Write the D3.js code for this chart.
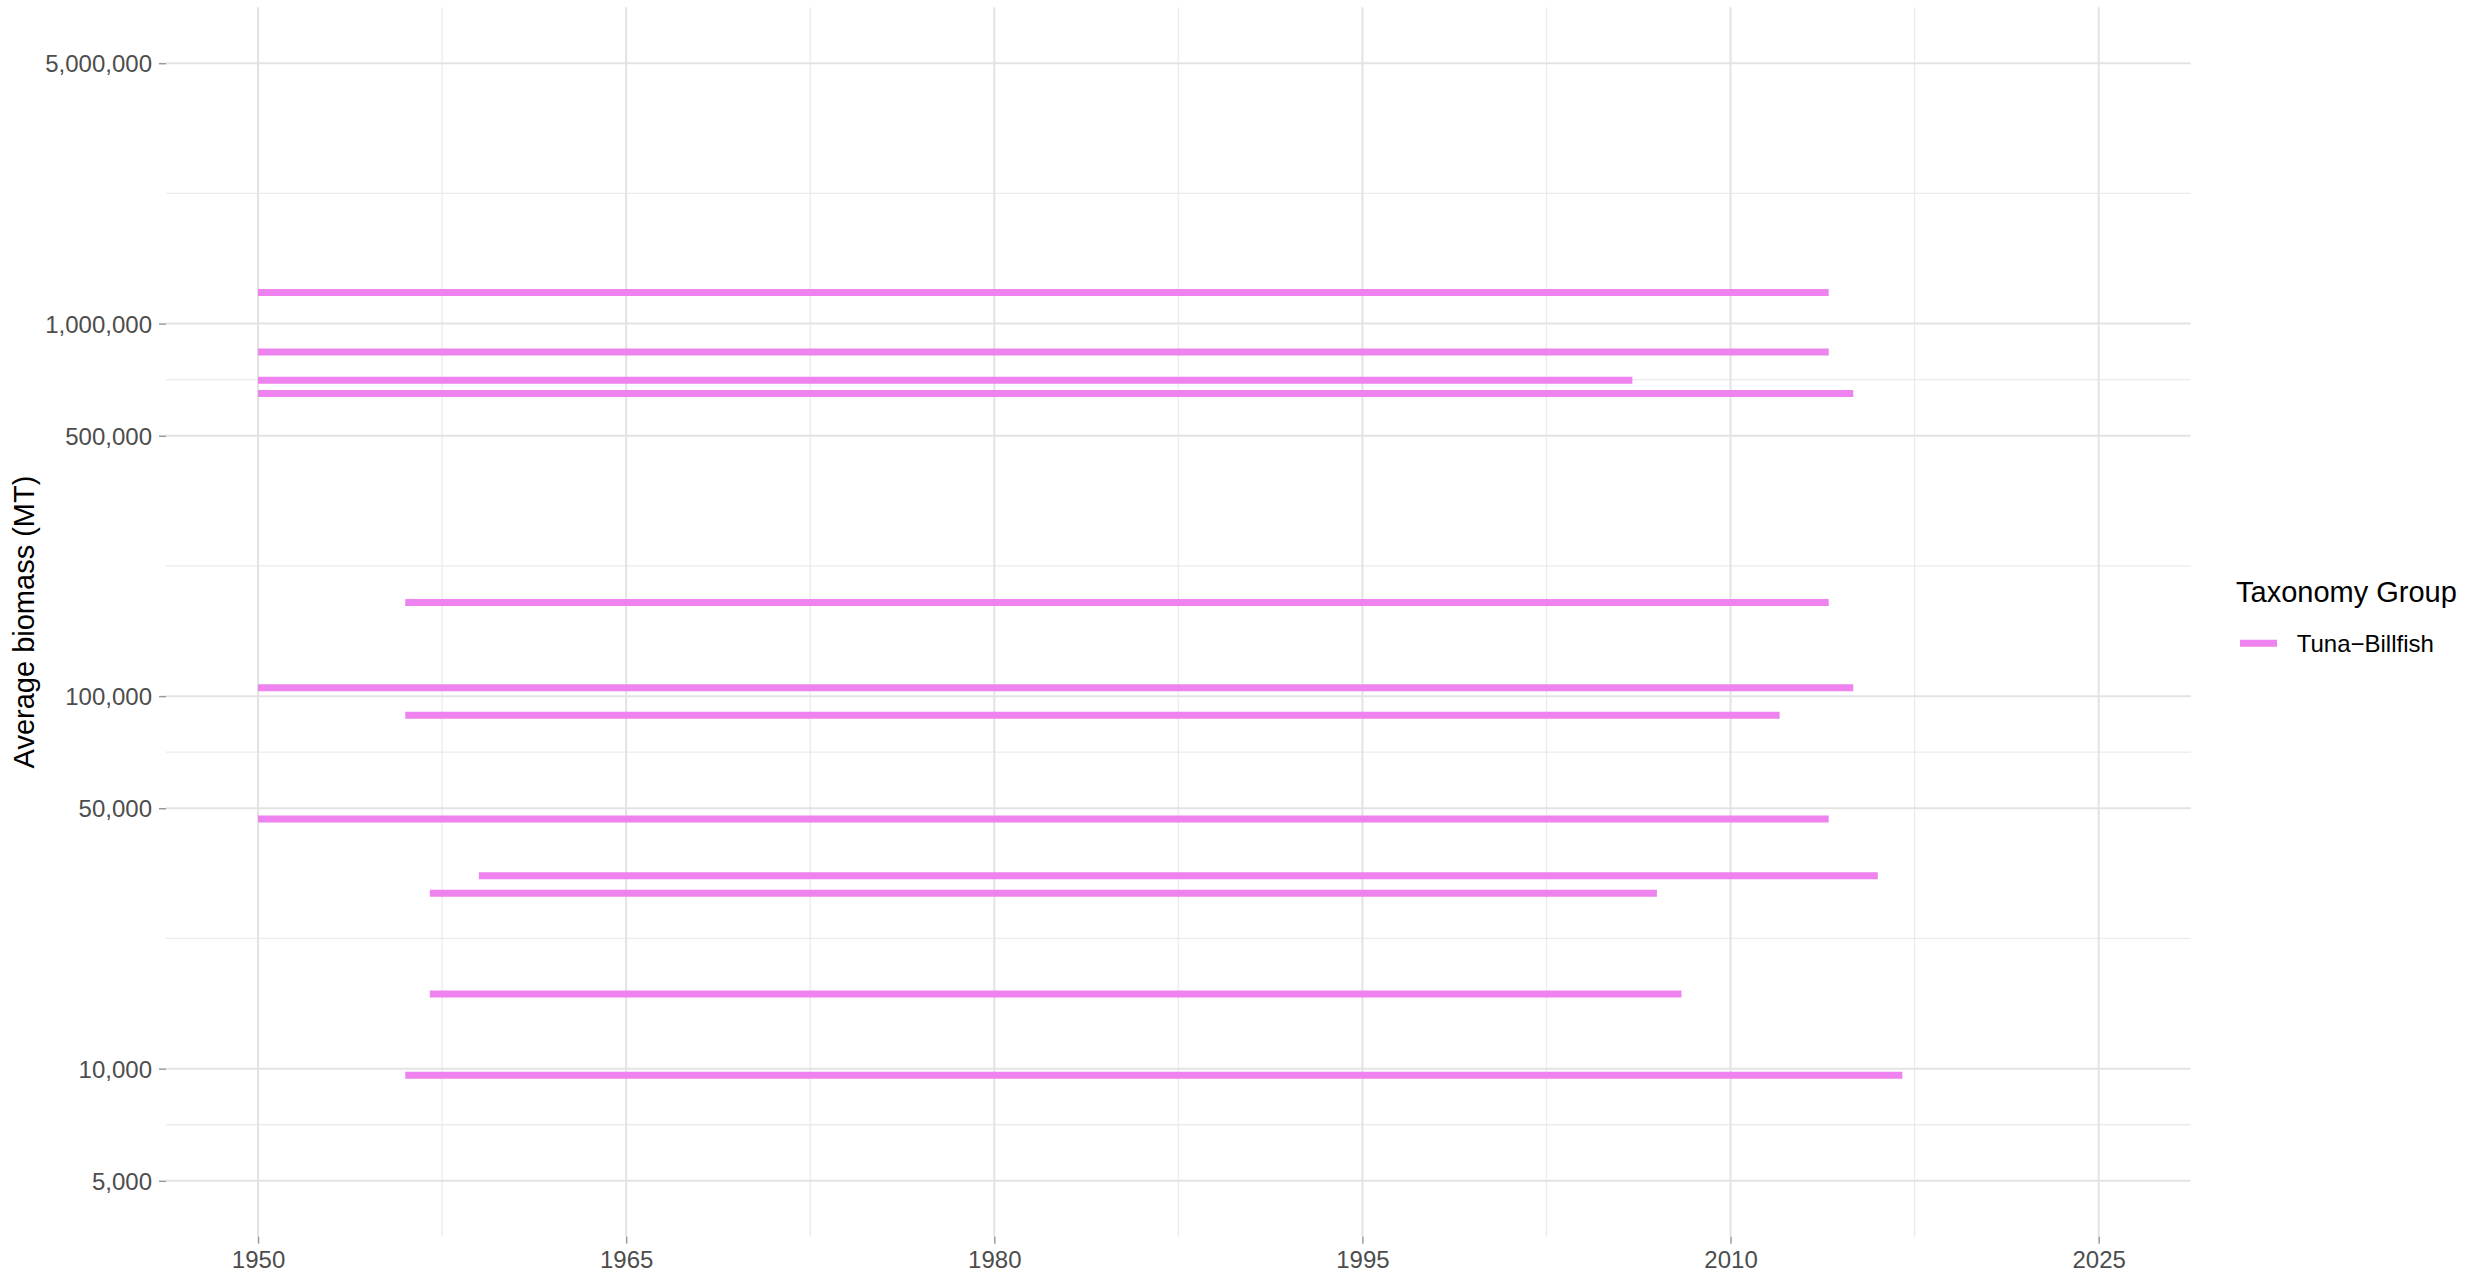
<!DOCTYPE html>
<html>
<head>
<meta charset="utf-8">
<script src="https://cdn.jsdelivr.net/npm/d3@7"></script>
<style>
  html, body { margin: 0; padding: 0; background: #fff; }
  svg { display: block; font-family: "Liberation Sans", Arial, sans-serif; }
</style>
</head>
<body>
<svg id="chart" width="2465" height="1283"></svg>
<script>
// ---- data ----
const startYears = [1950, 1950, 1950, 1950, 1956, 1950, 1956, 1950, 1959, 1957, 1957, 1956];
const endYears   = [2014, 2014, 2006, 2015, 2014, 2015, 2012, 2014, 2016, 2007, 2008, 2017];
const avgBiomass = [1211000, 839000, 704600, 649000, 178400, 105300, 88900, 46800, 32950, 29550, 15860, 9600];
const groupNames = ["Tuna\u2212Billfish"];
const xTickValues = [1950, 1965, 1980, 1995, 2010, 2025];
const yTickValues = [5000, 10000, 50000, 100000, 500000, 1000000, 5000000];
const xLimits = [1950, 2025];
const yLimits = [5000, 5000000];

// ---- layout ----
const W = 2465, H = 1283;
const panel = { left: 166, right: 2190.7, top: 7.3, bottom: 1236.7 };
const lineColor = "#EE82EE";

const svg = d3.select("#chart");

// x scale with 5% expansion
const xSpan = xLimits[1] - xLimits[0];
const x = d3.scaleLinear()
  .domain([xLimits[0] - 0.05 * xSpan, xLimits[1] + 0.05 * xSpan])
  .range([panel.left, panel.right]);

// y log scale with 5% expansion in log space
const ly0 = Math.log10(yLimits[0]), ly1 = Math.log10(yLimits[1]);
const lSpan = ly1 - ly0;
const y = d3.scaleLog()
  .domain([Math.pow(10, ly0 - 0.05 * lSpan), Math.pow(10, ly1 + 0.05 * lSpan)])
  .range([panel.bottom, panel.top]);

// minor breaks: midpoints in transformed space
const xMinor = [];
for (let i = 0; i < xTickValues.length - 1; i++) xMinor.push((xTickValues[i] + xTickValues[i + 1]) / 2);
const yMinor = [];
for (let i = 0; i < yTickValues.length - 1; i++) yMinor.push(Math.sqrt(yTickValues[i] * yTickValues[i + 1]));

const grid = svg.append("g");
// minor grid
grid.selectAll(".hmin").data(yMinor).enter().append("line")
  .attr("x1", panel.left).attr("x2", panel.right)
  .attr("y1", d => y(d)).attr("y2", d => y(d))
  .attr("stroke", "#ebebeb").attr("stroke-width", 1.3);
grid.selectAll(".vmin").data(xMinor).enter().append("line")
  .attr("y1", panel.top).attr("y2", panel.bottom)
  .attr("x1", d => x(d)).attr("x2", d => x(d))
  .attr("stroke", "#ebebeb").attr("stroke-width", 1.3);
// major grid
grid.selectAll(".hmaj").data(yTickValues).enter().append("line")
  .attr("x1", panel.left).attr("x2", panel.right)
  .attr("y1", d => y(d)).attr("y2", d => y(d))
  .attr("stroke", "#e3e3e3").attr("stroke-width", 2);
grid.selectAll(".vmaj").data(xTickValues).enter().append("line")
  .attr("y1", panel.top).attr("y2", panel.bottom)
  .attr("x1", d => x(d)).attr("x2", d => x(d))
  .attr("stroke", "#e3e3e3").attr("stroke-width", 2);

// data lines
const stocks = startYears.map((s, i) => ({ start: s, end: endYears[i], value: avgBiomass[i] }));
const lineGen = d3.line().x(d => x(d[0])).y(d => y(d[1]));
svg.append("g").selectAll("path").data(stocks).enter().append("path")
  .attr("d", d => lineGen([[d.start, d.value], [d.end, d.value]]))
  .attr("fill", "none")
  .attr("stroke", lineColor)
  .attr("stroke-width", 7)
  .attr("stroke-linecap", "butt");

// axes
const fmt = d3.format(",");
const yAxis = d3.axisLeft(y).tickValues(yTickValues).tickFormat(fmt).tickSize(7).tickPadding(7);
const gy = svg.append("g").attr("transform", `translate(${panel.left},0)`).call(yAxis);
gy.select(".domain").remove();
gy.selectAll(".tick line").attr("stroke", "#9a9a9a").attr("stroke-width", 1.5);
gy.selectAll(".tick text").attr("fill", "#4d4d4d").attr("font-size", 24)
  .attr("font-family", "Liberation Sans, Arial, sans-serif").attr("dy", "0.36em");

const xAxis = d3.axisBottom(x).tickValues(xTickValues).tickFormat(d3.format("d")).tickSize(7).tickPadding(7);
const gx = svg.append("g").attr("transform", `translate(0,${panel.bottom})`).call(xAxis);
gx.select(".domain").remove();
gx.selectAll(".tick line").attr("stroke", "#9a9a9a").attr("stroke-width", 1.5);
gx.selectAll(".tick text").attr("fill", "#4d4d4d").attr("font-size", 24)
  .attr("font-family", "Liberation Sans, Arial, sans-serif").attr("dy", null).attr("y", 31.6);

// y axis title
svg.append("text")
  .attr("transform", `translate(33.5,${(panel.top + panel.bottom) / 2}) rotate(-90)`)
  .attr("text-anchor", "middle")
  .attr("font-size", 29)
  .attr("fill", "#000")
  .text("Average biomass (MT)");

// legend
const legend = svg.append("g");
legend.append("text")
  .attr("x", 2236).attr("y", 601.7)
  .attr("font-size", 29).attr("fill", "#000")
  .text("Taxonomy Group");
const items = legend.selectAll(".item").data(groupNames).enter().append("g");
items.append("line")
  .attr("x1", 2240).attr("x2", 2277)
  .attr("y1", (d, i) => 643.3 + i * 40).attr("y2", (d, i) => 643.3 + i * 40)
  .attr("stroke", lineColor).attr("stroke-width", 7);
items.append("text")
  .attr("x", 2296.7).attr("y", (d, i) => 651.7 + i * 40)
  .attr("font-size", 24).attr("fill", "#000")
  .text(d => d);
</script>
</body>
</html>
